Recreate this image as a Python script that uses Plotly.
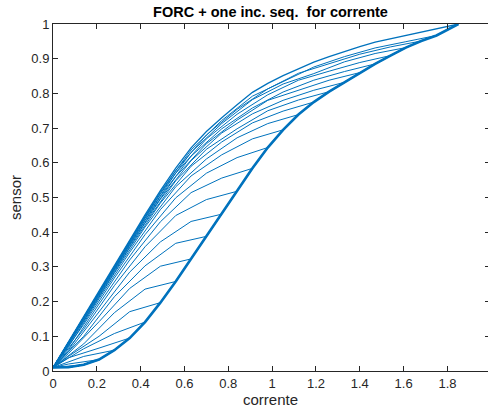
import plotly.graph_objects as go

# Current grid (A) shared by every branch
CURRENT = [0.00, 0.07, 0.14, 0.21, 0.28, 0.35, 0.42, 0.49, 0.56, 0.63, 0.70,
           0.77, 0.84, 0.91, 0.98, 1.05, 1.12, 1.19, 1.26, 1.33, 1.40, 1.47,
           1.54, 1.61, 1.68, 1.75, 1.85]

# Major increasing branch of the sensor output on the grid above
SENSOR_INC = [0.010, 0.011, 0.018, 0.033, 0.060, 0.095, 0.141, 0.197, 0.258,
              0.323, 0.388, 0.452, 0.518, 0.584, 0.644, 0.695, 0.739, 0.775,
              0.805, 0.832, 0.860, 0.885, 0.909, 0.932, 0.951, 0.967, 1.000]

# Major decreasing branch (reversal at the last current), same grid
SENSOR_DEC_MAJOR = [0.010, 0.083, 0.157, 0.230, 0.304, 0.378, 0.450, 0.520,
                    0.585, 0.643, 0.690, 0.730, 0.767, 0.803, 0.829, 0.851,
                    0.871, 0.890, 0.906, 0.921, 0.935, 0.948, 0.958, 0.967,
                    0.976, 0.986, 1.000]

# First-order reversal curves: sensor readings on the way down from each
# reversal point CURRENT[k], sampled every second grid step back to 0 A
FORC_DEC = [
    [0.010],
    [0.010],
    [0.020, 0.010],
    [0.042, 0.010],
    [0.066, 0.038, 0.010],
    [0.108, 0.064, 0.010],
    [0.171, 0.100, 0.042, 0.010],
    [0.236, 0.168, 0.078, 0.010],
    [0.302, 0.238, 0.142, 0.050, 0.010],
    [0.368, 0.303, 0.214, 0.100, 0.010],
    [0.431, 0.372, 0.285, 0.172, 0.056, 0.010],
    [0.494, 0.448, 0.358, 0.246, 0.120, 0.010],
    [0.556, 0.514, 0.430, 0.320, 0.193, 0.060, 0.010],
    [0.615, 0.570, 0.499, 0.393, 0.268, 0.134, 0.010],
    [0.669, 0.623, 0.562, 0.465, 0.342, 0.208, 0.069, 0.010],
    [0.713, 0.672, 0.611, 0.531, 0.415, 0.282, 0.143, 0.010],
    [0.749, 0.715, 0.660, 0.590, 0.484, 0.355, 0.215, 0.074, 0.010],
    [0.781, 0.750, 0.698, 0.639, 0.548, 0.426, 0.289, 0.147, 0.010],
    [0.809, 0.780, 0.741, 0.686, 0.606, 0.495, 0.362, 0.220, 0.077, 0.010],
    [0.838, 0.810, 0.780, 0.723, 0.655, 0.560, 0.434, 0.294, 0.150, 0.010],
    [0.863, 0.838, 0.804, 0.758, 0.698, 0.619, 0.503, 0.367, 0.223, 0.079, 0.010],
    [0.889, 0.864, 0.838, 0.796, 0.740, 0.669, 0.570, 0.440, 0.298, 0.153, 0.010],
    [0.915, 0.891, 0.857, 0.827, 0.782, 0.713, 0.630, 0.511, 0.372, 0.226, 0.081, 0.010],
    [0.934, 0.913, 0.886, 0.858, 0.813, 0.754, 0.680, 0.578, 0.445, 0.301, 0.155, 0.010],
    [0.949, 0.931, 0.906, 0.876, 0.834, 0.792, 0.722, 0.637, 0.516, 0.375, 0.228, 0.082, 0.010],
]

X_TICKS = [0, 0.2, 0.4, 0.6, 0.8, 1, 1.2, 1.4, 1.6, 1.8]
X_TICK_TEXT = ["0", "0.2", "0.4", "0.6", "0.8", "1", "1.2", "1.4", "1.6", "1.8"]
Y_TICKS = [0, 0.1, 0.2, 0.3, 0.4, 0.5, 0.6, 0.7, 0.8, 0.9, 1]
Y_TICK_TEXT = ["0", "0.1", "0.2", "0.3", "0.4", "0.5", "0.6", "0.7", "0.8", "0.9", "1"]

LINE_BLUE = "#0072BD"
AXIS_GREY = "#262626"
FONT = "Liberation Sans, Arial, sans-serif"

fig = go.Figure()

# each reversal curve: up along the increasing branch, then back down to 0
for k, down in enumerate(FORC_DEC, start=1):
    idx = list(range(k - 2, -1, -2))
    if not idx or idx[-1] != 0:
        idx.append(0)
    xs = CURRENT[:k + 1] + [CURRENT[i] for i in idx]
    ys = SENSOR_INC[:k + 1] + list(down)
    fig.add_trace(go.Scatter(x=xs, y=ys, mode="lines",
                             line=dict(color=LINE_BLUE, width=1),
                             hoverinfo="skip"))

# outermost loop: full increasing sequence, then the major decreasing branch
fig.add_trace(go.Scatter(x=CURRENT + CURRENT[::-1],
                         y=SENSOR_INC + SENSOR_DEC_MAJOR[::-1],
                         mode="lines", line=dict(color=LINE_BLUE, width=1.3),
                         hoverinfo="skip"))
fig.add_trace(go.Scatter(x=CURRENT, y=SENSOR_INC, mode="lines",
                         line=dict(color=LINE_BLUE, width=2.6),
                         hoverinfo="skip"))
# right-hand tick marks
fig.add_trace(go.Scatter(x=[], y=[], yaxis="y2", showlegend=False))

fig.update_layout(
    width=488, height=413,
    margin=dict(l=53, r=0, t=24, b=42),
    paper_bgcolor="white", plot_bgcolor="white",
    showlegend=False,
    font=dict(family=FONT, size=13, color=AXIS_GREY),
    title=dict(text="<b>FORC + one inc. seq. \u00a0for corrente</b>",
               x=0.5, xref="paper", xanchor="center",
               y=1 - 12 / 413, yref="container", yanchor="middle",
               font=dict(family=FONT, size=14.5, color="#000000")),
    xaxis=dict(range=[0, 1.985], tickvals=X_TICKS, ticktext=X_TICK_TEXT,
               ticks="inside", ticklen=5, tickcolor=AXIS_GREY,
               tickfont=dict(size=13),
               showline=True, linecolor=AXIS_GREY, linewidth=1, mirror="ticks",
               showgrid=False, zeroline=False,
               title=dict(text="corrente", standoff=3,
                          font=dict(size=15, color=AXIS_GREY))),
    yaxis=dict(range=[0, 1], tickvals=Y_TICKS, ticktext=Y_TICK_TEXT,
               ticks="inside", ticklen=5, tickcolor=AXIS_GREY,
               tickfont=dict(size=13),
               showline=True, linecolor=AXIS_GREY, linewidth=1, mirror=False,
               showgrid=False, zeroline=False,
               title=dict(text="sensor", standoff=6,
                          font=dict(size=15, color=AXIS_GREY))),
    yaxis2=dict(range=[0, 1], tickvals=Y_TICKS, overlaying="y", side="right",
                ticks="inside", ticklen=3, tickcolor=AXIS_GREY,
                showticklabels=False, showline=False, showgrid=False,
                zeroline=False),
)

fig.write_html("out.html")
